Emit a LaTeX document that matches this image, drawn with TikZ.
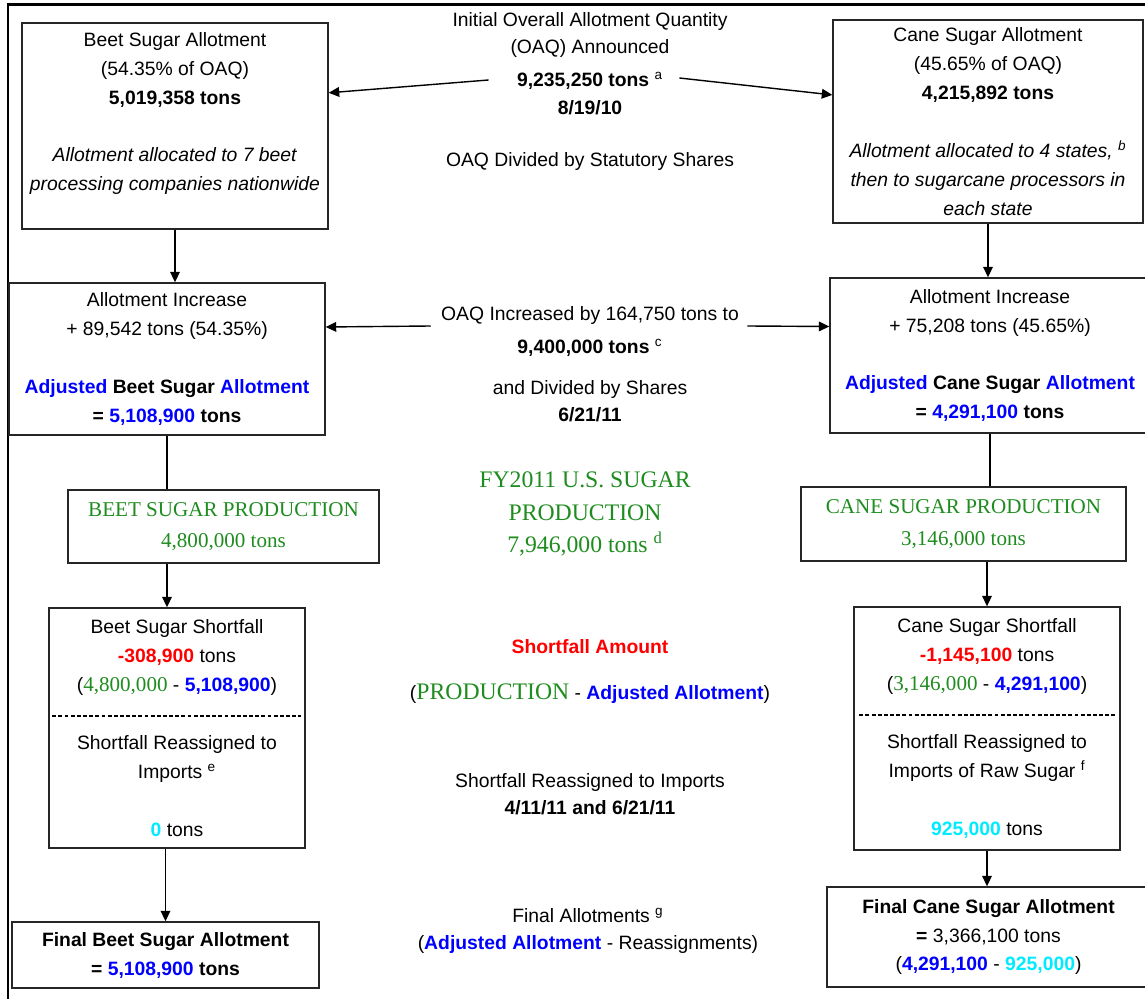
\documentclass[tikz,border=0pt]{standalone}
\usepackage{fontspec}
\setmainfont{Liberation Sans}
\newfontfamily\prodfont{Liberation Serif}
\usetikzlibrary{arrows.meta,calc}
\definecolor{adjblue}{RGB}{0,0,255}
\definecolor{shortred}{RGB}{255,0,0}
\definecolor{prodgreen}{RGB}{30,140,30}
\definecolor{importcyan}{RGB}{0,235,255}
\tikzset{>={Triangle[length=6pt,width=5.5pt]}}
\tikzset{allotbox/.style={draw=black!85,align=center,inner sep=0pt,font=\fontsize{11}{16.5}\selectfont}}
\tikzset{prodbox/.style={allotbox,text=prodgreen,font=\prodfont\fontsize{12}{18}\selectfont}}
\tikzset{note/.style={align=center,inner sep=1pt,font=\fontsize{11}{15.5}\selectfont}}
\newcommand{\adj}[1]{\textbf{\textcolor{adjblue}{#1}}}
\newcommand{\prodnum}[1]{{\prodfont\fontsize{12}{18}\selectfont\color{prodgreen}#1}}

\begin{document}
\begin{tikzpicture}[x=0.02cm,y=-0.02cm,line width=0.8pt]
            \useasboundingbox (0,0) rectangle (1145,999);
            \draw[line width=1.7pt] (1145,5) -- (8,5) -- (8,999);

            % beet side
            \node[allotbox,minimum width=6.12cm,minimum height=4.12cm] (beetallot) at (175,126)
                {Beet Sugar Allotment\\(54.35\% of OAQ)\\\textbf{5,019,358 tons}\\[16.5pt]\textit{Allotment allocated to 7 beet}\\\textit{processing companies nationwide}\\ \mbox{}};
            \node[allotbox,minimum width=6.32cm,minimum height=3.04cm] (beetinc) at (167,359)
                {Allotment Increase\\+ 89,542 tons (54.35\%)\\[16.5pt]\adj{Adjusted} \textbf{Beet Sugar} \adj{Allotment}\\\textbf{=} \adj{5,108,900} \textbf{tons}};
            \node[prodbox,minimum width=6.22cm,minimum height=1.46cm] (beetprod) at (223.5,526.5)
                {BEET SUGAR PRODUCTION\\4,800,000 tons};
            \node[allotbox,minimum width=5.12cm,minimum height=4.8cm] (beetshort) at (177,728)
                {Beet Sugar Shortfall\\\textbf{\textcolor{shortred}{-308,900}} tons\\(\prodnum{4,800,000} - \adj{5,108,900})\\[16.5pt]Shortfall Reassigned to\\Imports \textsuperscript{e}\\[16.5pt]\textbf{\textcolor{importcyan}{0}} tons};
            \node[allotbox,minimum width=6.14cm,minimum height=1.32cm] (beetfinal) at (165.5,955)
                {\textbf{Final Beet Sugar Allotment}\\\textbf{=} \adj{5,108,900} \textbf{tons}};

            % cane side
            \node[allotbox,minimum width=6.2cm,minimum height=4.06cm] (canealot) at (988,121.5)
                {Cane Sugar Allotment\\(45.65\% of OAQ)\\\textbf{4,215,892 tons}\\[16.5pt]\textit{Allotment allocated to 4 states,} \textsuperscript{\textit{b}}\\\textit{then to sugarcane processors in}\\\textit{each state}};
            \node[allotbox,minimum width=6.4cm,minimum height=3.1cm] (caneinc) at (990,355.5)
                {Allotment Increase\\+ 75,208 tons (45.65\%)\\[16.5pt]\adj{Adjusted} \textbf{Cane Sugar} \adj{Allotment}\\\textbf{=} \adj{4,291,100} \textbf{tons}};
            \node[prodbox,minimum width=6.5cm,minimum height=1.48cm] (caneprod) at (963.5,524)
                {CANE SUGAR PRODUCTION\\3,146,000 tons};
            \node[allotbox,minimum width=5.32cm,minimum height=4.86cm] (caneshort) at (987,728.5)
                {Cane Sugar Shortfall\\\textbf{\textcolor{shortred}{-1,145,100}} tons\\(\prodnum{3,146,000} - \adj{4,291,100})\\[16.5pt]Shortfall Reassigned to\\Imports of Raw Sugar \textsuperscript{f}\\[16.5pt]\textbf{\textcolor{importcyan}{925,000}} tons};
            \node[allotbox,minimum width=6.46cm,minimum height=2cm] (canefinal) at (988.5,937)
                {\textbf{Final Cane Sugar Allotment}\\\textbf{=} 3,366,100 tons\\(\adj{4,291,100} - \textbf{\textcolor{importcyan}{925,000}})};

            % middle column
            \node[note] (oaqhead) at (590,35) {Initial Overall Allotment Quantity\\(OAQ) Announced};
            \node[note] (oaqtons) at (590,81) {\textbf{9,235,250 tons} \textsuperscript{a}};
            \node[note] (oaqdate) at (590,108) {\textbf{8/19/10}};
            \node[note] (shares) at (590,162) {OAQ Divided by Statutory Shares};
            \node[note] (oaqinc) at (590,316) {OAQ Increased by 164,750 tons to};
            \node[note] (newoaq) at (590,348) {\textbf{9,400,000 tons} \textsuperscript{c}};
            \node[note] (divshares) at (590,401) {and Divided by Shares\\\textbf{6/21/11}};
            \node[note,text=prodgreen,font=\prodfont\fontsize{13.5}{18.5}\selectfont] (usprod) at (585,514)
                {FY2011 U.S. SUGAR\\PRODUCTION\\7,946,000 tons \textsuperscript{d}};
            \node[note,text=shortred,font=\bfseries\fontsize{11}{15.5}\selectfont] (shortamt) at (590,647) {Shortfall Amount};
            \node[note] (shortcalc) at (590,694)
                {({\prodfont\fontsize{13.5}{18}\selectfont\color{prodgreen}PRODUCTION} - \adj{Adjusted Allotment})};
            \node[note] (reassign) at (590,794) {Shortfall Reassigned to Imports\\\textbf{4/11/11 and 6/21/11}};
            \node[note] (finalnote) at (588,931) {Final Allotments \textsuperscript{g}\\(\adj{Adjusted Allotment} - Reassignments)};

            \draw[dash pattern=on 2.2pt off 1.3pt,line width=0.7pt]
                ($(beetshort.west)+(4,-12)$) -- ($(beetshort.east)+(-5,-12)$);
            \draw[dash pattern=on 2.2pt off 1.3pt,line width=0.7pt]
                ($(caneshort.west)+(6,-13.5)$) -- ($(caneshort.east)+(-4,-13.5)$);

            \path[->]
                ($(oaqtons.west)+(-26,-1)$) edge ($(beetallot.north east)!0.34!(beetallot.south east)$)
                ($(oaqtons.east)+(14,-3)$) edge ($(canealot.north west)!0.37!(canealot.south west)$)
                ($(oaqinc.west)+(-8,10)$) edge ($(beetinc.east)+(0,-32)$)
                ($(oaqinc.east)+(6,10)$) edge ($(caneinc.west)+(0,-29)$)
                (beetallot.south) edge (beetallot.south |- beetinc.north)
                (canealot.south) edge (canealot.south |- caneinc.north)
                (beetprod.south -| beetinc.south) edge (beetshort.north -| beetinc.south)
                (caneprod.south -| caneshort.north) edge (caneshort.north)
                (beetshort.south -| beetfinal.north) edge (beetfinal.north)
                (caneshort.south) edge (caneshort.south |- canefinal.north)
            ;
            \path
                (beetinc.south) edge (beetinc.south |- beetprod.north)
                (caneinc.south) edge (caneinc.south |- caneprod.north)
            ;
\end{tikzpicture}
\end{document}
